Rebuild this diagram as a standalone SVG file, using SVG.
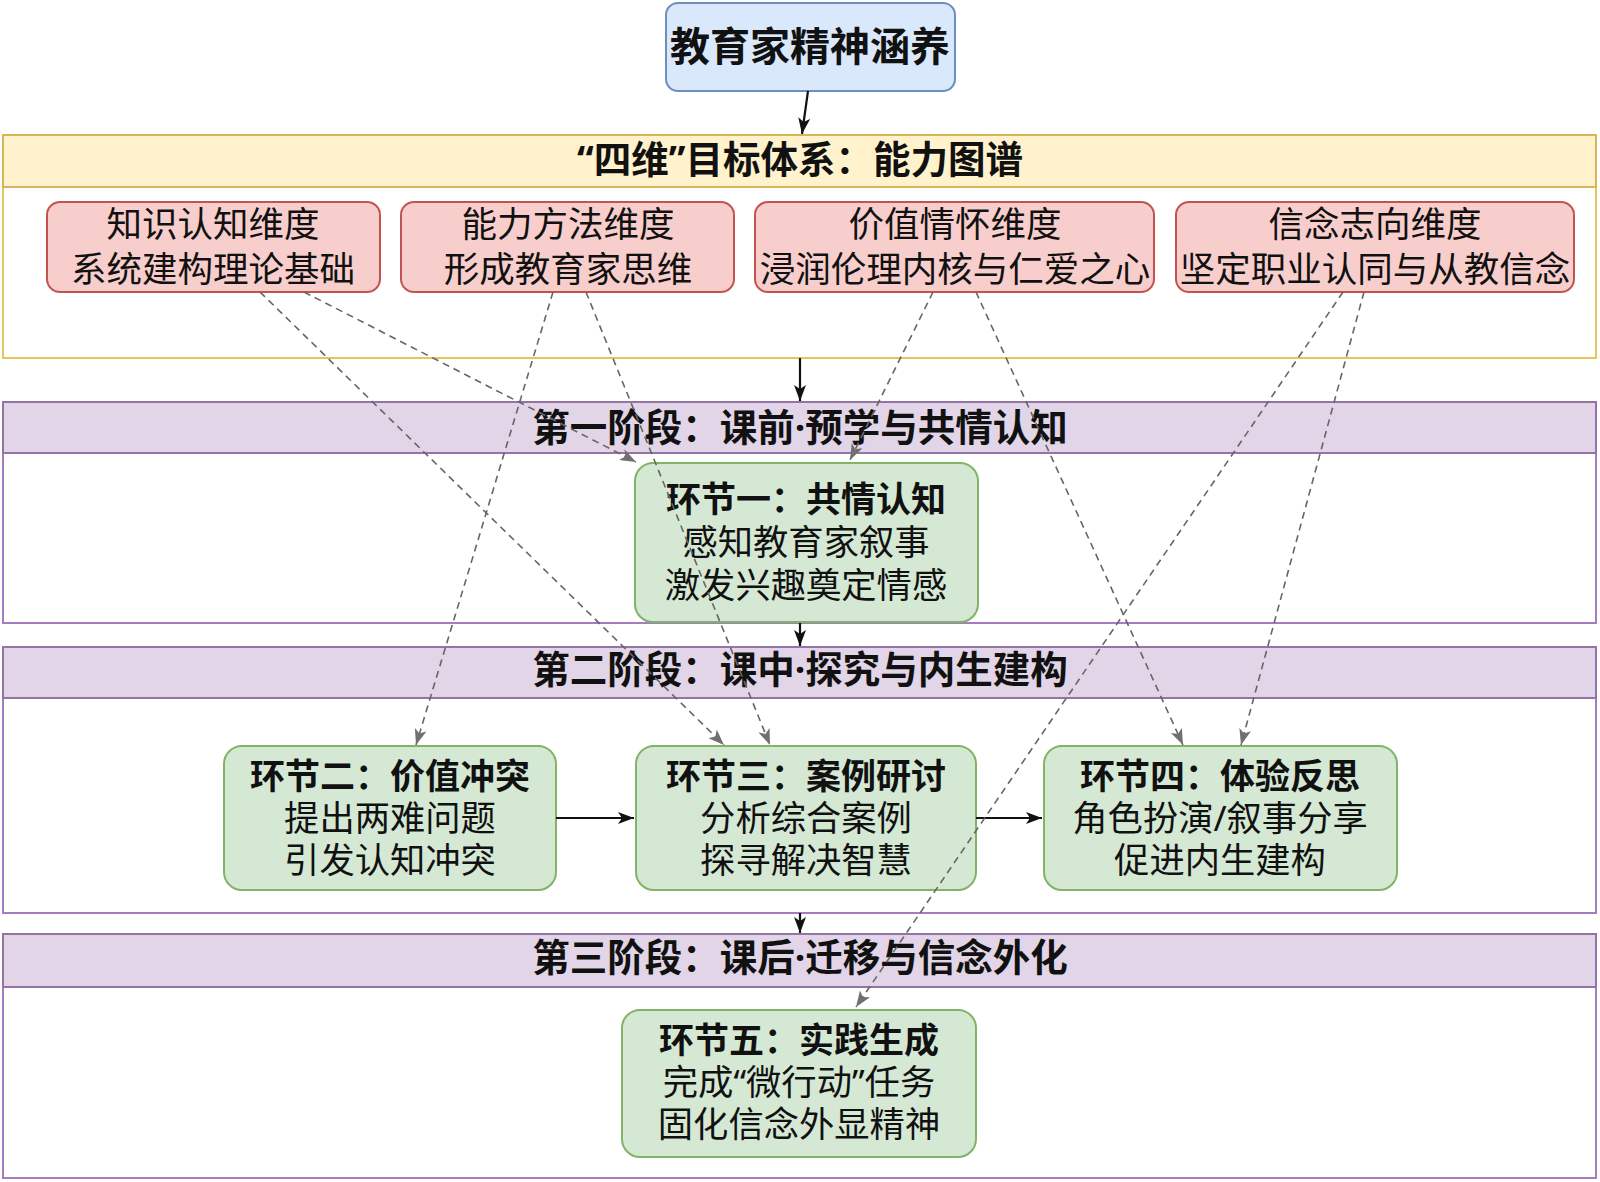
<svg xmlns="http://www.w3.org/2000/svg" width="1600" height="1182" viewBox="0 0 1600 1182">
<style>
text{font-family:"Noto Sans","Noto Sans CJK SC",sans-serif;fill:#111;text-anchor:middle}
.b{font-weight:bold}
.h{font-size:37.5px;font-weight:bold}
.t{font-size:35px;font-weight:bold}
.n{font-size:35.3px}
.r{font-size:35.5px}
.ybody{fill:#ffffff;stroke:#e6c65a;stroke-width:2}
.yhead{fill:#fff2cc;stroke:#d6b656;stroke-width:2}
.pbody{fill:#ffffff;stroke:#a77bc0;stroke-width:2}
.phead{fill:#e1d5e7;stroke:#9673a6;stroke-width:2}
.red{fill:#f8cecc;stroke:#c25450;stroke-width:2}
.grn{fill:#d5e8d4;stroke:#82b366;stroke-width:2}
.blu{fill:#dae8fc;stroke:#6c8ebf;stroke-width:2}
.solid{stroke:#111;stroke-width:2.2;fill:none}
.dash{stroke:#666;stroke-width:1.6;fill:none;stroke-dasharray:7 5}
</style>
<defs>
<marker id="ab" viewBox="0 0 16 12" refX="16" refY="6" markerWidth="16" markerHeight="12" markerUnits="userSpaceOnUse" orient="auto">
<path d="M0,0 L16,6 L0,12 L4,6 z" fill="#111"/>
</marker>
<marker id="ag" viewBox="0 0 16 12" refX="16" refY="6" markerWidth="16" markerHeight="12" markerUnits="userSpaceOnUse" orient="auto">
<path d="M0,0 L16,6 L0,12 L4,6 z" fill="#707070"/>
</marker>
</defs>
<rect width="1600" height="1182" fill="#ffffff"/>

<g id="goals-container">
<rect class="ybody" x="3" y="135" width="1593" height="223"/>
<rect class="yhead" x="3" y="135" width="1593" height="52"/>
<text class="h" x="800" y="173">“四维”目标体系：能力图谱</text>
</g>

<g id="phase1">
<rect class="pbody" x="3" y="402" width="1593" height="221"/>
<rect class="phead" x="3" y="402" width="1593" height="51"/>
<text class="h" x="800" y="441">第一阶段：课前·预学与共情认知</text>
</g>

<g id="phase2">
<rect class="pbody" x="3" y="647" width="1593" height="266"/>
<rect class="phead" x="3" y="647" width="1593" height="51"/>
<text class="h" x="800" y="683">第二阶段：课中·探究与内生建构</text>
</g>

<g id="phase3">
<rect class="pbody" x="3" y="934" width="1593" height="244"/>
<rect class="phead" x="3" y="934" width="1593" height="53"/>
<text class="h" x="800" y="971">第三阶段：课后·迁移与信念外化</text>
</g>

<g id="root">
<rect class="blu" x="666" y="3" width="289" height="88" rx="12"/>
<text class="b" x="810" y="61" style="font-size:40px">教育家精神涵养</text>
</g>

<g id="dim1">
<rect class="red" x="47" y="202" width="333" height="90" rx="13"/>
<text class="r" x="213" y="237">知识认知维度</text>
<text class="r" x="213" y="282">系统建构理论基础</text>
</g>
<g id="dim2">
<rect class="red" x="401" y="202" width="333" height="90" rx="13"/>
<text class="r" x="568" y="237">能力方法维度</text>
<text class="r" x="568" y="282">形成教育家思维</text>
</g>
<g id="dim3">
<rect class="red" x="755" y="202" width="399" height="90" rx="13"/>
<text class="r" x="955" y="237">价值情怀维度</text>
<text class="r" x="955" y="282">浸润伦理内核与仁爱之心</text>
</g>
<g id="dim4">
<rect class="red" x="1176" y="202" width="398" height="90" rx="13"/>
<text class="r" x="1375" y="237">信念志向维度</text>
<text class="r" x="1375" y="282">坚定职业认同与从教信念</text>
</g>

<g id="step1">
<rect class="grn" x="635" y="463" width="343" height="159" rx="18"/>
<text class="t" x="806" y="512">环节一：共情认知</text>
<text class="n" x="806" y="555">感知教育家叙事</text>
<text class="n" x="806" y="598">激发兴趣奠定情感</text>
</g>
<g id="step2">
<rect class="grn" x="224" y="746" width="332" height="144" rx="18"/>
<text class="t" x="390" y="789">环节二：价值冲突</text>
<text class="n" x="390" y="831">提出两难问题</text>
<text class="n" x="390" y="873">引发认知冲突</text>
</g>
<g id="step3">
<rect class="grn" x="636" y="746" width="340" height="144" rx="18"/>
<text class="t" x="806" y="789">环节三：案例研讨</text>
<text class="n" x="806" y="831">分析综合案例</text>
<text class="n" x="806" y="873">探寻解决智慧</text>
</g>
<g id="step4">
<rect class="grn" x="1044" y="746" width="353" height="144" rx="18"/>
<text class="t" x="1220" y="789">环节四：体验反思</text>
<text class="n" x="1220" y="831">角色扮演/叙事分享</text>
<text class="n" x="1220" y="873">促进内生建构</text>
</g>
<g id="step5">
<rect class="grn" x="622" y="1010" width="354" height="147" rx="18"/>
<text class="t" x="799" y="1053">环节五：实践生成</text>
<text class="n" x="799" y="1095">完成“微行动”任务</text>
<text class="n" x="799" y="1137">固化信念外显精神</text>
</g>

<g id="connectors">
<line class="solid" x1="808" y1="91" x2="802" y2="134" marker-end="url(#ab)"/>
<line class="solid" x1="800" y1="358" x2="800" y2="401" marker-end="url(#ab)"/>
<line class="solid" x1="800" y1="623" x2="800" y2="646" marker-end="url(#ab)"/>
<line class="solid" x1="800" y1="913" x2="800" y2="933" marker-end="url(#ab)"/>
<line class="solid" x1="556" y1="818" x2="634" y2="818" marker-end="url(#ab)"/>
<line class="solid" x1="976" y1="818" x2="1042" y2="818" marker-end="url(#ab)"/>
<line class="dash" x1="260" y1="292" x2="724" y2="745" marker-end="url(#ag)"/>
<line class="dash" x1="304" y1="292" x2="636" y2="462" marker-end="url(#ag)"/>
<line class="dash" x1="553" y1="292" x2="416" y2="745" marker-end="url(#ag)"/>
<line class="dash" x1="586" y1="292" x2="770" y2="745" marker-end="url(#ag)"/>
<line class="dash" x1="933" y1="292" x2="850" y2="460" marker-end="url(#ag)"/>
<line class="dash" x1="976" y1="292" x2="1183" y2="745" marker-end="url(#ag)"/>
<line class="dash" x1="1343" y1="292" x2="856" y2="1007" marker-end="url(#ag)"/>
<line class="dash" x1="1364" y1="292" x2="1241" y2="745" marker-end="url(#ag)"/>
</g>
</svg>
